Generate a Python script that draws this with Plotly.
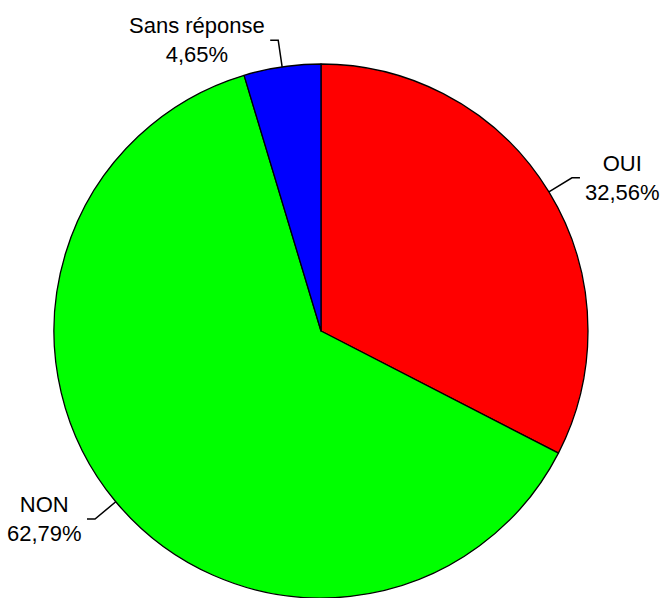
import math
import plotly.graph_objects as go

labels = ["OUI", "NON", "Sans réponse"]
values = [32.56, 62.79, 4.65]
text_values = ["32,56%", "62,79%", "4,65%"]
colors = ["#FF0000", "#00FF00", "#0000FF"]

W, H = 662, 598
CX, CY, R = 321, 331, 267

fig = go.Figure(go.Pie(
    labels=labels, values=values, sort=False, direction="clockwise", rotation=0,
    marker=dict(colors=colors, line=dict(color="black", width=1.3)),
    textinfo="none", hoverinfo="label+percent", showlegend=False,
    domain=dict(x=[(CX - R) / W, (CX + R) / W], y=[(H - CY - R) / H, (H - CY + R) / H]),
))

def px(x):
    return x / W

def py(y):
    return 1 - y / H

total = sum(values)
cum = 0
shapes = []
annotations = []
for lab, v, tv in zip(labels, values, text_values):
    mid = (cum + v / 2) / total * 2 * math.pi
    cum += v
    s, c = math.sin(mid), math.cos(mid)
    x0, y0 = CX + R * s, CY - R * c
    x1, y1 = CX + (R + 27) * s, CY - (R + 27) * c
    side = 1 if s >= 0 else -1
    x2 = x1 + side * 8
    path = f"M {px(x0)} {py(y0)} L {px(x1)} {py(y1)} L {px(x2)} {py(y1)}"
    shapes.append(dict(type="path", xref="paper", yref="paper", path=path,
                       line=dict(color="black", width=1.5)))
    annotations.append(dict(
        x=px(x2 + side * 3), y=py(y1), xref="paper", yref="paper",
        text=f"{lab}<br>{tv}", showarrow=False, align="center",
        xanchor="left" if side > 0 else "right", yanchor="middle",
        font=dict(family="Liberation Sans, Arial, sans-serif", size=22, color="black"),
    ))

fig.update_layout(
    width=W, height=H, margin=dict(l=0, r=0, t=0, b=0),
    paper_bgcolor="white", plot_bgcolor="white",
    shapes=shapes, annotations=annotations,
)
fig.write_html("out.html", config={"displayModeBar": False},
               post_script="document.body.style.margin='0';document.body.style.overflow='hidden';")
